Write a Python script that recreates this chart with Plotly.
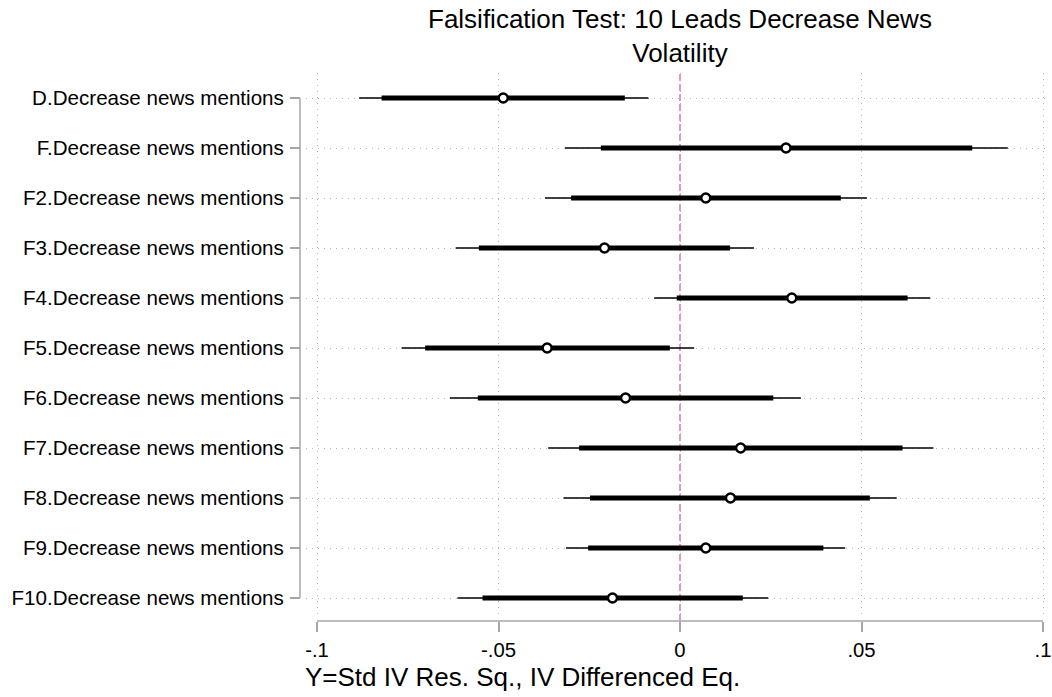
import plotly.graph_objects as go

labels = ["D.Decrease news mentions", "F.Decrease news mentions", "F2.Decrease news mentions",
          "F3.Decrease news mentions", "F4.Decrease news mentions", "F5.Decrease news mentions",
          "F6.Decrease news mentions", "F7.Decrease news mentions", "F8.Decrease news mentions",
          "F9.Decrease news mentions", "F10.Decrease news mentions"]
coef = [-0.0487, 0.0292, 0.0071, -0.0208, 0.0308, -0.0366, -0.0150, 0.0167, 0.0139, 0.0071, -0.0186]
ci95_lo = [-0.0884, -0.0317, -0.0372, -0.0618, -0.0071, -0.0767, -0.0634, -0.0363, -0.0321, -0.0314, -0.0613]
ci95_hi = [-0.0087, 0.0903, 0.0515, 0.0204, 0.0689, 0.0039, 0.0333, 0.0698, 0.0597, 0.0455, 0.0243]
ci90_lo = [-0.0822, -0.0218, -0.0300, -0.0554, -0.0009, -0.0702, -0.0557, -0.0278, -0.0248, -0.0253, -0.0544]
ci90_hi = [-0.0152, 0.0805, 0.0443, 0.0138, 0.0627, -0.0028, 0.0257, 0.0613, 0.0523, 0.0395, 0.0173]
xticks = [-0.1, -0.05, 0, 0.05, 0.1]
xticklabels = ["-.1", "-.05", "0", ".05", ".1"]

W, H = 1052, 697
FONT = "Liberation Sans, Arial, sans-serif"
AXC = "#a6a6a6"

def px(v):
    return v / W

def py(v):
    return 1 - v / H

ypos = list(range(len(labels)))

def seg(lo, hi):
    xs, ys = [], []
    for i, (a, b) in enumerate(zip(lo, hi)):
        xs += [a, b, None]
        ys += [i, i, None]
    return xs, ys

fig = go.Figure()
x95, y95 = seg(ci95_lo, ci95_hi)
fig.add_trace(go.Scatter(x=x95, y=y95, mode="lines", line=dict(color="black", width=1.7),
                         hoverinfo="skip", showlegend=False))
x90, y90 = seg(ci90_lo, ci90_hi)
fig.add_trace(go.Scatter(x=x90, y=y90, mode="lines", line=dict(color="black", width=5),
                         hoverinfo="skip", showlegend=False))
fig.add_trace(go.Scatter(x=coef, y=ypos, mode="markers",
                         marker=dict(symbol="circle", size=9, color="white",
                                     line=dict(color="black", width=2.4)),
                         showlegend=False))

# zero reference line
fig.add_shape(type="line", xref="x", yref="paper", x0=0, x1=0, y0=py(621), y1=py(73),
              line=dict(color="#d77fb4", width=1.6, dash="7px,3px"), layer="below")
# axis lines
fig.add_shape(type="line", xref="x", yref="paper", x0=xticks[0], x1=xticks[-1],
              y0=py(621), y1=py(621), line=dict(color=AXC, width=1.5))
fig.add_shape(type="line", xref="paper", yref="y", x0=px(300), x1=px(300),
              y0=ypos[0], y1=ypos[-1], line=dict(color=AXC, width=1.5))

fig.update_layout(
    width=W, height=H,
    margin=dict(l=0, r=0, t=0, b=0),
    paper_bgcolor="white", plot_bgcolor="white",
    font=dict(family=FONT, color="black"),
    xaxis=dict(domain=[px(306), px(1050)], range=[(306 - 680) / 3630, (1050 - 680) / 3630],
               anchor="free", position=py(621), automargin=False,
               tickvals=xticks, ticktext=xticklabels, tickfont=dict(size=20.3),
               ticks="outside", ticklen=10, tickwidth=1.5, tickcolor=AXC,
               showline=False, zeroline=False,
               showgrid=True, gridcolor="#b5b5b5", gridwidth=1, griddash="1px,5px",
               ticklabelstandoff=1, ticklabeloverflow="allow"),
    yaxis=dict(domain=[py(614), py(73)], range=[(614 - 98) / 50, -0.5],
               anchor="free", position=px(300), automargin=False,
               tickvals=ypos, ticktext=labels, tickfont=dict(size=20.6),
               ticks="outside", ticklen=10, tickwidth=1.5, tickcolor=AXC,
               showline=False, zeroline=False,
               showgrid=True, gridcolor="#b5b5b5", gridwidth=1, griddash="1px,5px",
               ticklabelstandoff=2, ticklabeloverflow="allow"),
    annotations=[
        dict(text="Falsification Test: 10 Leads Decrease News<br>Volatility",
             xref="paper", yref="paper", x=px(680), y=py(36), xanchor="center", yanchor="middle",
             showarrow=False, font=dict(size=26, family=FONT, color="black")),
        dict(text="Y=Std IV Res. Sq., IV Differenced Eq.",
             xref="paper", yref="paper", x=px(303), y=py(677), xanchor="left", yanchor="middle",
             showarrow=False, font=dict(size=26, family=FONT, color="black")),
    ],
)

fig.write_html("out.html", config={"displayModeBar": False},
               post_script="document.body.style.margin='0';document.body.style.overflow='hidden';")
